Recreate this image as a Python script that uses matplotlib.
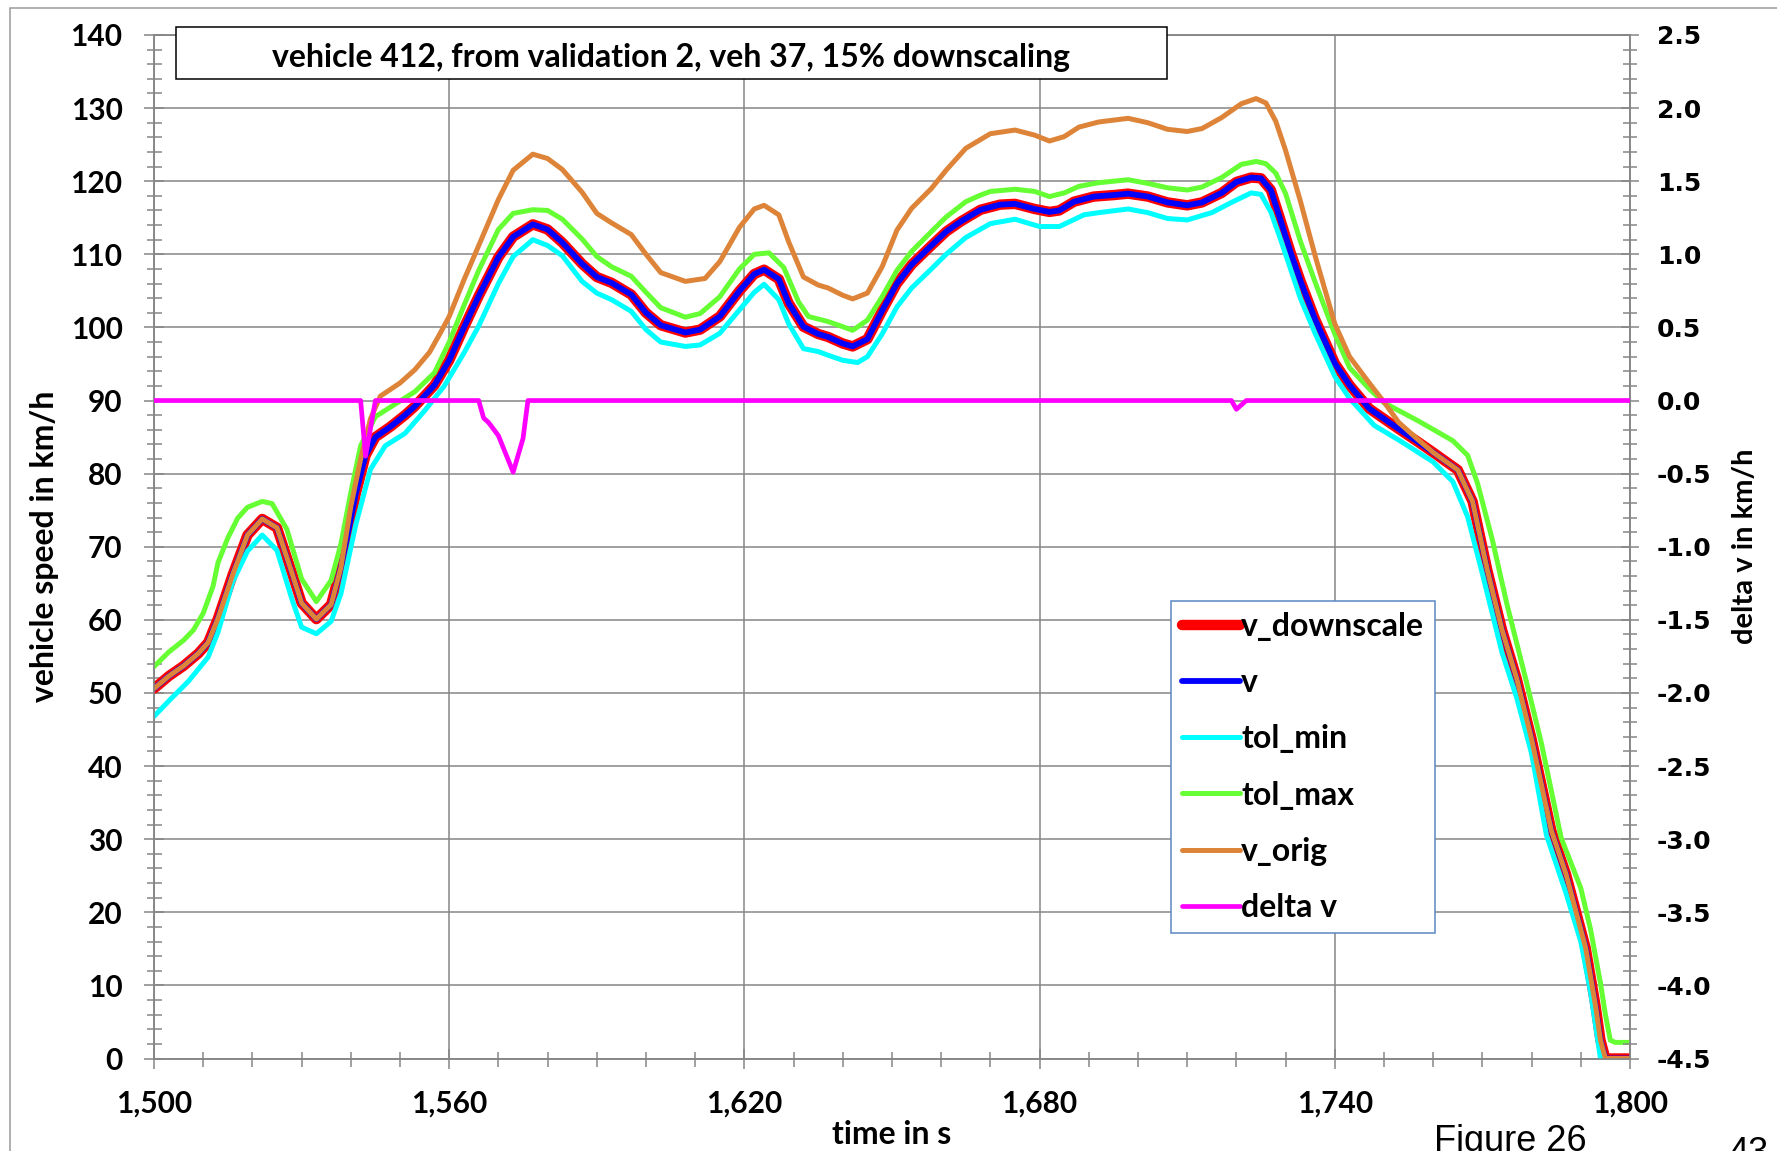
import matplotlib.pyplot as plt
from matplotlib.patches import Rectangle
from matplotlib.ticker import MultipleLocator, FuncFormatter

plt.rcParams['axes.unicode_minus'] = False

# speed traces (time in s, speed in km/h)
t_v = [1500, 1503, 1506, 1509, 1511, 1513, 1516, 1519, 1522, 1525, 1528, 1530, 1533, 1536,
       1538, 1541, 1543, 1545, 1548, 1551, 1553, 1557, 1560, 1563, 1566, 1570, 1573, 1577,
       1580, 1583, 1587, 1590, 1593, 1597, 1600, 1603, 1608, 1611, 1615, 1619, 1622, 1624,
       1627, 1629, 1632, 1635, 1637, 1640, 1642, 1645, 1648, 1651, 1654, 1658, 1661, 1664,
       1668, 1672, 1675, 1679, 1682, 1684, 1687, 1691, 1695, 1698, 1702, 1706, 1710, 1713,
       1717, 1720, 1723, 1725, 1727, 1729, 1731, 1733, 1736, 1740, 1743, 1747, 1750, 1753,
       1757, 1760, 1765, 1768, 1771, 1774, 1777, 1780, 1784, 1787, 1791, 1793, 1794, 1795, 1800]
v_downscale = [50.6, 52.3, 53.7, 55.4, 56.9, 60.2, 66.2, 71.6, 73.8, 72.6, 66.5, 62.3, 60.1, 62.1,
               67.2, 77.2, 82.5, 85.0, 86.4, 88.0, 89.2, 92.1, 95.5, 100.0, 104.3, 109.6, 112.4, 114.1,
               113.4, 111.6, 108.7, 106.9, 106.1, 104.5, 102.0, 100.3, 99.3, 99.7, 101.5, 105.0, 107.3, 107.9,
               106.6, 103.3, 100.1, 99.1, 98.7, 97.8, 97.4, 98.4, 102.3, 106.0, 108.6, 111.2, 113.1, 114.5,
               116.1, 116.8, 116.9, 116.2, 115.8, 116.0, 117.2, 117.9, 118.1, 118.3, 117.9, 117.1, 116.7, 117.1,
               118.4, 119.9, 120.5, 120.4, 118.8, 114.6, 110.3, 106.4, 101.1, 95.1, 92.1, 88.9, 87.5, 86.1,
               84.3, 82.9, 80.5, 76.2, 66.8, 58.6, 51.9, 43.7, 31.2, 25.2, 15.1, 7.2, 2.5, 0.0, 0.0]
v = list(v_downscale)  # v lies exactly on v_downscale

t_orig = [1500, 1503, 1506, 1509, 1511, 1513, 1516, 1519, 1522, 1525, 1528, 1530, 1533, 1536,
          1538, 1540, 1542, 1544, 1546, 1548, 1550, 1553, 1556, 1558, 1560, 1563, 1566, 1570,
          1573, 1577, 1580, 1583, 1587, 1590, 1593, 1597, 1600, 1603, 1608, 1612, 1615, 1619,
          1622, 1624, 1627, 1629, 1632, 1635, 1637, 1640, 1642, 1645, 1648, 1651, 1654, 1658,
          1661, 1665, 1670, 1675, 1679, 1682, 1685, 1688, 1692, 1698, 1702, 1706, 1710, 1713,
          1717, 1721, 1724, 1726, 1728, 1730, 1733, 1736, 1740, 1743, 1747, 1750, 1753, 1757,
          1760, 1765, 1768, 1771, 1774, 1777, 1780, 1784, 1787, 1791, 1793, 1794, 1795, 1800]
v_orig = [50.6, 52.3, 53.7, 55.4, 56.9, 60.2, 66.2, 71.6, 73.8, 72.6, 66.5, 62.3, 60.1, 62.1,
          67.2, 75.5, 82.0, 87.5, 90.6, 91.5, 92.4, 94.2, 96.6, 99.0, 101.5, 106.5, 111.2, 117.5,
          121.5, 123.7, 123.1, 121.6, 118.5, 115.6, 114.3, 112.7, 110.0, 107.5, 106.3, 106.7, 109.0, 113.7,
          116.2, 116.7, 115.4, 111.7, 106.9, 105.8, 105.4, 104.4, 103.9, 104.7, 108.3, 113.3, 116.3, 119.0,
          121.5, 124.5, 126.5, 127.0, 126.3, 125.5, 126.1, 127.4, 128.1, 128.6, 128.0, 127.1, 126.8, 127.2,
          128.7, 130.6, 131.3, 130.7, 128.2, 124.2, 117.3, 109.8, 100.5, 96.0, 92.4, 89.8, 87.0, 84.6,
          82.9, 80.5, 76.2, 66.8, 58.6, 51.9, 43.7, 31.2, 25.2, 15.1, 7.2, 2.5, 0.0, 0.0]

t_min = [1500, 1503, 1507, 1511, 1513, 1516, 1519, 1522, 1525, 1528, 1530, 1533, 1536, 1538,
         1541, 1544, 1547, 1551, 1555, 1559, 1563, 1566, 1570, 1573, 1577, 1580, 1583, 1587,
         1590, 1593, 1597, 1600, 1603, 1608, 1611, 1615, 1619, 1622, 1624, 1627, 1629, 1632,
         1635, 1637, 1640, 1643, 1645, 1648, 1651, 1654, 1658, 1661, 1665, 1670, 1675, 1680,
         1684, 1689, 1692, 1698, 1702, 1706, 1710, 1715, 1719, 1723, 1725, 1727, 1729, 1733,
         1736, 1740, 1743, 1748, 1753, 1760, 1764, 1767, 1770, 1774, 1777, 1780, 1783, 1787,
         1790, 1792, 1794, 1800]
tol_min = [46.8, 48.9, 51.6, 54.9, 58.3, 65.2, 69.4, 71.6, 69.5, 62.9, 59.0, 58.1, 59.8, 63.6,
           73.0, 80.6, 83.8, 85.5, 88.6, 92.0, 96.5, 100.2, 106.0, 109.7, 112.0, 111.2, 109.8, 106.3,
           104.7, 103.8, 102.2, 99.7, 98.0, 97.4, 97.6, 99.2, 102.4, 104.8, 105.9, 103.8, 100.5, 97.1,
           96.7, 96.2, 95.5, 95.2, 96.0, 99.1, 102.8, 105.4, 108.0, 110.0, 112.3, 114.2, 114.8, 113.8,
           113.8, 115.4, 115.7, 116.2, 115.7, 114.9, 114.7, 115.7, 117.1, 118.4, 118.2, 115.8, 112.0, 104.0,
           99.2, 93.3, 90.3, 86.6, 84.6, 81.6, 78.9, 74.1, 66.3, 55.5, 49.3, 41.7, 30.6, 22.6,
           16.0, 9.0, 0.0, 0.0]

t_max = [1500, 1503, 1506, 1508, 1510, 1512, 1513, 1515, 1517, 1519, 1522, 1524, 1527, 1530,
         1533, 1536, 1538, 1540, 1542, 1545, 1549, 1553, 1557, 1560, 1563, 1566, 1570, 1573,
         1577, 1580, 1583, 1587, 1590, 1593, 1597, 1600, 1603, 1608, 1611, 1615, 1619, 1622,
         1625, 1628, 1631, 1633, 1637, 1640, 1642, 1645, 1648, 1651, 1654, 1658, 1661, 1665,
         1668, 1670, 1675, 1679, 1682, 1685, 1688, 1692, 1698, 1702, 1706, 1710, 1713, 1717,
         1721, 1724, 1726, 1728, 1730, 1733, 1736, 1740, 1743, 1747, 1750, 1757, 1764, 1767,
         1769, 1772, 1775, 1779, 1782, 1786, 1790, 1792, 1794, 1795, 1796, 1797, 1800]
tol_max = [53.6, 55.6, 57.2, 58.6, 60.9, 64.6, 67.8, 71.2, 73.9, 75.4, 76.2, 75.9, 72.4, 65.6,
           62.5, 65.4, 70.4, 77.4, 83.8, 87.8, 89.5, 91.2, 93.8, 98.0, 103.0, 107.8, 113.4, 115.6,
           116.1, 116.0, 114.8, 112.1, 109.7, 108.3, 107.0, 104.8, 102.7, 101.4, 101.9, 104.2, 108.0, 110.0,
           110.2, 108.2, 103.5, 101.5, 100.8, 100.1, 99.6, 101.0, 104.2, 107.8, 110.4, 113.1, 115.1, 117.2,
           118.1, 118.6, 118.9, 118.6, 117.9, 118.4, 119.3, 119.8, 120.2, 119.7, 119.1, 118.8, 119.2, 120.5,
           122.3, 122.7, 122.4, 121.1, 118.3, 111.8, 106.2, 99.1, 94.5, 91.6, 89.7, 87.2, 84.5, 82.5,
           78.7, 71.0, 62.1, 51.4, 43.1, 30.2, 23.3, 17.6, 10.3, 6.0, 2.5, 2.2, 2.2]

# difference trace on the right axis (km/h)
t_dv = [1500, 1542, 1543, 1545, 1566, 1567, 1568, 1570, 1573, 1575, 1576, 1719, 1720, 1722, 1800]
delta_v = [0, 0, -0.38, 0, 0, -0.12, -0.15, -0.24, -0.49, -0.26, 0, 0, -0.06, 0, 0]

W, H = 1777, 1151
grid_c = '#868686'
calibri = 'Lato'

fig = plt.figure(figsize=(W / 100, H / 100), dpi=100)
ax = fig.add_axes([154 / W, 1 - 1058.5 / H, 1476 / W, 1023.5 / H])
ax2 = ax.twinx()

l_ds, = ax.plot(t_v, v_downscale, color='#ff0000', lw=7.5, solid_capstyle='round', zorder=3)
l_v, = ax.plot(t_v, v, color='#0000ff', lw=4.2, solid_capstyle='round', zorder=3)
l_min, = ax.plot(t_min, tol_min, color='#00ffff', lw=3.6, solid_capstyle='round', zorder=3)
l_max, = ax.plot(t_max, tol_max, color='#66ff33', lw=3.6, solid_capstyle='round', zorder=3)
l_orig, = ax.plot(t_orig, v_orig, color='#dd8439', lw=3.6, solid_capstyle='round', zorder=3)
l_dv, = ax2.plot(t_dv, delta_v, color='#ff00ff', lw=3.4, solid_capstyle='round', zorder=3)

ax.set_xlim(1500, 1800)
ax.set_ylim(0, 140)
ax2.set_ylim(-4.5, 2.5)

ax.xaxis.set_major_locator(MultipleLocator(60))
ax.xaxis.set_minor_locator(MultipleLocator(10))
ax.yaxis.set_major_locator(MultipleLocator(10))
ax.yaxis.set_minor_locator(MultipleLocator(2))
ax2.yaxis.set_major_locator(MultipleLocator(0.5))
ax2.yaxis.set_minor_locator(MultipleLocator(0.1))
ax.xaxis.set_major_formatter(FuncFormatter(lambda x, p: f'{x:,.0f}'))
ax2.yaxis.set_major_formatter(FuncFormatter(lambda x, p: f'{x:.1f}'))

ax.grid(True, which='major', color=grid_c, lw=1.1)
ax.set_axisbelow(True)
for a in (ax, ax2):
    for s in a.spines.values():
        s.set_color(grid_c)
        s.set_linewidth(1.1)

ax.tick_params(axis='both', which='major', direction='inout', length=14.4, width=1.1,
               color=grid_c, labelsize=21.5, pad=15.5)
ax.tick_params(axis='both', which='minor', direction='inout', length=10.8, width=1.1, color=grid_c)
ax.tick_params(axis='x', which='major', pad=15)
ax2.tick_params(which='major', direction='inout', length=13, width=1.1, color=grid_c,
                labelsize=18, pad=13)
ax2.tick_params(which='minor', direction='inout', length=10, width=1.1, color=grid_c)

for lab in ax.get_xticklabels() + ax.get_yticklabels():
    lab.set_family(calibri)
    lab.set_fontweight('bold')
for lab in ax2.get_yticklabels():
    lab.set_family('DejaVu Sans')
    lab.set_fontweight('bold')

lbl = dict(family=calibri, fontweight='bold', fontsize=23)
ax.set_xlabel('time in s', **lbl)
ax.xaxis.set_label_coords(0.5, -0.0745)
ax.xaxis.label.set_verticalalignment('center')
ax.set_ylabel('vehicle speed in km/h', **lbl)
ax.yaxis.set_label_coords(-0.0745, 0.5)
ax.yaxis.label.set_verticalalignment('center')
ax2.set_ylabel('delta v in km/h', family=calibri, fontweight='bold', fontsize=21)
ax2.yaxis.set_label_coords(1.078, 0.5)
ax2.yaxis.label.set_verticalalignment('center')

leg = ax2.legend([l_ds, l_v, l_min, l_max, l_orig, l_dv],
                 ['v_downscale', 'v', 'tol_min', 'tol_max', 'v_orig', 'delta v'],
                 loc='upper left', bbox_to_anchor=(1171 / W, 1 - 601 / H),
                 bbox_transform=fig.transFigure, borderaxespad=0, fancybox=False,
                 framealpha=1, edgecolor='#5b87c5',
                 prop=dict(family=calibri, weight='bold', size=23),
                 handlelength=1.8, handletextpad=0.05, labelspacing=0.85, borderpad=0.35)
leg.get_frame().set_linewidth(1.1)
leg.set_zorder(10)

# title box
fig.patches.append(Rectangle((176 / W, 1 - 79 / H), (1167 - 176) / W, 52 / H,
                             transform=fig.transFigure, facecolor='white',
                             edgecolor='black', lw=1.1, zorder=5))
fig.text(671 / W, 1 - 58 / H, 'vehicle 412, from validation 2, veh 37, 15% downscaling',
         ha='center', va='center', family=calibri, fontweight='bold', fontsize=23, zorder=6)

# page border and page texts
fig.patches.append(Rectangle((10 / W, -0.05), 1.2, 1 - 8 / H + 0.05, transform=fig.transFigure,
                             fill=False, edgecolor='#9a9a9a', lw=1.1, zorder=4))
fig.text(1434 / W, 0.0, 'Figure 26', family='Liberation Sans', fontsize=26, va='baseline')
fig.text(1728 / W, -12 / H, '43', family='Liberation Sans', fontsize=26, va='baseline')

fig.savefig('out.png', dpi=100)
